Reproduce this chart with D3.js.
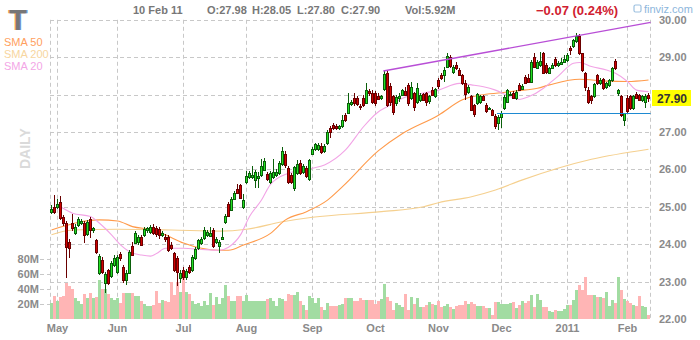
<!DOCTYPE html>
<html>
<head>
<meta charset="utf-8">
<script src="https://cdnjs.cloudflare.com/ajax/libs/d3/7.8.5/d3.min.js"></script>
<style>
  body { margin: 0; background: #fff; }
  svg { display: block; font-family: Arial, "Liberation Sans", sans-serif; }
  .ticker { text-shadow: -1px 0 #f0a050, 1px 0 #6a9ad0; }
</style>
</head>
<body>
<svg id="chart" width="700" height="340"></svg>
<script>
// daily candles, 29 Apr 2010 .. 10 Feb 2011 (200 sessions)
var open = [
  24.85,25.00,25.00,25.14,24.73,24.57,24.07,24.57,24.30,24.51,24.58,24.57,24.27,24.67,24.38,24.11,23.23,23.58,22.97,23.31,23.15,23.45,
  23.26,23.74,23.40,23.05,23.23,23.95,24.03,24.05,24.20,24.25,24.38,24.33,24.47,24.42,24.40,24.25,24.20,24.20,23.98,23.76,23.63,23.10,
  23.31,23.13,23.40,23.30,23.63,23.90,24.02,24.17,24.25,24.22,24.38,24.05,23.95,24.15,24.60,25.07,24.91,25.22,25.47,25.58,25.00,
  25.67,25.80,25.80,25.72,25.78,25.85,25.98,25.88,25.67,25.80,25.85,25.90,26.14,26.41,26.03,25.85,25.49,25.90,26.18,25.92,26.05,25.73,
  26.41,26.55,26.54,26.63,26.50,26.70,27.10,27.18,27.16,27.10,27.16,27.45,27.52,27.75,27.92,27.90,27.70,27.90,27.77,28.10,28.05,
  28.03,27.95,27.90,28.15,28.58,28.23,27.96,27.77,27.90,27.99,28.10,28.26,27.90,28.05,27.81,27.85,28.02,28.04,27.82,28.12,27.96,
  28.39,28.52,28.52,28.75,29.01,28.61,28.78,28.66,28.52,28.32,28.08,27.95,27.72,27.77,27.80,27.95,27.72,27.62,27.59,27.43,27.25,
  27.40,27.63,27.81,28.00,28.05,27.90,28.26,28.15,28.48,28.45,28.35,29.00,28.72,28.80,29.10,28.80,28.58,28.72,28.95,28.78,28.82,28.88,
  28.92,29.25,29.30,29.42,29.58,29.10,28.57,28.12,27.95,27.95,28.52,28.30,28.42,28.20,28.25,28.40,28.90,28.05,27.96,27.32,
  27.90,27.95,27.65,28.02,27.98,27.85,27.80,27.98
];
var high = [
  25.05,25.32,25.20,25.30,24.78,24.62,24.15,24.80,24.55,24.72,24.68,24.62,24.65,24.72,24.45,24.15,23.75,23.65,23.25,23.35,23.55,23.70,
  23.72,23.80,23.45,23.30,23.85,24.05,24.35,24.25,24.25,24.45,24.45,24.52,24.55,24.48,24.45,24.35,24.28,24.25,24.05,23.80,23.68,23.30,
  23.40,23.35,23.45,23.70,23.92,24.15,24.18,24.45,24.38,24.45,24.42,24.20,24.10,24.42,24.80,25.12,25.25,25.42,25.62,25.62,25.35,
  25.95,25.95,26.10,25.98,25.94,26.27,26.30,25.92,25.95,26.28,26.00,26.22,26.59,26.48,26.08,25.90,26.10,26.25,26.25,26.15,26.10,26.28,
  26.60,26.70,26.70,26.70,26.68,27.05,27.15,27.25,27.22,27.20,27.45,27.52,28.03,27.85,28.05,27.95,27.75,27.98,28.30,28.15,28.12,
  28.10,28.05,28.00,28.62,28.62,28.30,28.00,27.98,28.05,28.15,28.20,28.30,28.35,28.08,28.30,28.05,28.05,28.08,27.98,28.20,28.18,
  28.45,28.58,28.75,29.12,29.05,28.80,28.88,28.70,28.55,28.40,28.25,28.00,27.75,28.05,28.00,27.98,27.78,27.68,27.62,27.48,27.45,
  27.55,27.98,28.15,28.08,28.10,28.12,28.30,28.28,28.52,28.55,28.92,29.10,28.92,29.15,29.15,28.85,28.75,28.85,29.00,28.90,28.98,29.05,
  29.10,29.30,29.50,29.66,29.62,29.12,28.60,28.20,28.00,28.32,28.55,28.45,28.45,28.35,28.42,28.75,28.95,28.15,28.00,27.52,
  28.00,28.00,28.00,28.08,28.02,28.00,28.02,28.05
];
var low = [
  24.80,24.80,24.95,24.65,24.50,23.10,23.63,24.35,24.25,24.45,24.52,24.03,24.22,24.17,24.30,23.75,23.18,23.20,22.70,22.90,23.10,23.40,
  23.20,23.55,22.95,22.90,23.20,23.68,24.00,23.98,23.95,24.20,24.30,24.28,24.25,24.20,24.15,24.20,24.05,23.80,23.85,23.25,22.88,22.95,
  23.05,23.05,23.20,23.25,23.58,23.85,23.98,24.12,24.18,24.18,23.90,24.00,23.77,24.10,24.55,24.72,24.88,25.18,25.35,25.20,24.95,
  25.60,25.75,25.75,25.49,25.49,25.80,25.95,25.70,25.62,25.75,25.80,25.85,26.10,26.05,25.60,25.62,25.43,25.85,25.85,25.88,25.78,25.70,
  26.38,26.50,26.48,26.40,26.45,26.65,26.85,27.05,27.05,27.05,27.12,27.28,27.48,27.70,27.70,27.70,27.60,27.68,27.74,27.95,27.75,
  27.70,27.85,27.85,28.10,27.68,27.70,27.45,27.70,27.80,27.95,27.95,27.70,27.85,27.55,27.75,27.80,27.82,27.70,27.75,27.95,27.90,
  28.15,28.40,28.35,28.70,28.70,28.55,28.65,28.50,28.25,27.85,28.02,27.55,27.40,27.72,27.75,27.82,27.52,27.58,27.42,27.08,27.05,
  27.10,27.58,27.78,27.95,27.90,27.85,28.10,28.12,28.28,28.30,28.30,28.72,28.68,28.75,28.55,28.55,28.55,28.68,28.75,28.75,28.78,28.85,
  28.88,29.05,29.25,29.38,29.05,28.60,28.10,27.75,27.75,27.90,28.25,28.25,28.12,28.15,28.20,28.35,28.65,27.95,27.40,27.16,
  27.50,27.60,27.60,27.88,27.82,27.80,27.65,27.80
];
var close = [
  24.95,24.85,25.07,24.70,24.57,23.93,23.90,24.43,24.47,24.67,24.62,24.25,24.60,24.38,24.42,23.80,23.68,23.27,23.20,22.97,23.49,23.62,
  23.67,23.63,23.04,23.22,23.80,23.71,24.30,24.20,23.97,24.40,24.42,24.45,24.30,24.28,24.25,24.30,24.15,23.84,23.90,23.31,23.26,23.23,
  23.13,23.28,23.26,23.66,23.87,24.11,24.13,24.38,24.32,24.30,23.95,24.15,24.05,24.20,24.75,24.75,25.20,25.38,25.38,25.23,25.18,
  25.82,25.90,25.86,25.94,25.82,26.09,26.23,25.73,25.90,25.94,25.92,26.18,26.50,26.12,25.65,25.67,26.07,26.15,25.90,26.10,25.82,26.25,
  26.54,26.68,26.66,26.47,26.62,27.00,27.00,27.10,27.10,27.16,27.32,27.32,27.77,27.80,27.77,27.74,27.66,27.72,28.12,28.03,27.80,
  27.77,27.88,27.95,28.55,27.72,27.81,27.54,27.93,27.95,28.12,27.99,27.77,28.21,27.66,28.17,28.00,27.86,27.81,27.95,27.99,28.14,
  28.23,28.44,28.66,29.03,28.76,28.75,28.70,28.52,28.30,28.02,28.21,27.60,27.48,28.02,27.96,27.86,27.57,27.64,27.45,27.16,27.40,
  27.50,27.93,28.12,28.02,27.92,28.08,28.12,28.24,28.30,28.35,28.88,28.75,28.88,28.90,28.57,28.60,28.70,28.80,28.78,28.85,28.88,28.95,
  29.05,29.18,29.45,29.57,29.10,28.65,28.20,27.81,27.85,28.28,28.30,28.40,28.18,28.30,28.38,28.70,28.70,28.12,27.45,27.50,
  27.56,27.65,27.95,27.92,27.86,27.96,27.97,27.90
];
// volume, millions of shares
var volume = [
  22,31,24,30,31,49,44,40,29,25,20,34,29,35,29,30,52,40,41,34,28,26,
  28,22,35,35,35,35,31,31,25,21,18,18,19,38,22,26,24,23,50,32,50,37,
  57,37,34,25,20,22,18,25,19,35,19,30,21,28,46,31,25,25,31,31,24,
  32,24,25,24,25,24,25,27,29,24,18,28,27,25,34,32,32,36,25,19,13,31,
  29,22,29,16,13,22,18,18,18,19,21,29,28,28,25,25,29,26,26,26,26,
  20,24,27,47,30,24,12,22,19,17,34,13,30,20,29,17,17,19,23,20,19,
  24,17,18,20,17,14,18,19,19,24,21,23,21,18,18,18,15,15,6,23,23,
  21,20,20,22,23,15,19,24,22,24,32,16,34,26,16,16,11,10,12,11,11,14,
  19,19,26,39,46,39,56,33,33,32,30,30,28,36,18,26,22,57,39,27,
  24,22,19,18,31,18,17,5.92
];

// moving averages: [session index, value]
var sma20 = [[3,25.0],[7,24.83],[13,24.74],[16,24.56],[20,24.25],[23,23.98],[26,23.8],[30,23.71],[33,23.68],[35,23.75],
  [38,23.89],[44,23.89],[50,23.86],[56,23.84],[59,23.92],[63,24.25],[66,24.74],[70,25.18],[73,25.6],[79,25.9],[87,26.03],
  [91,26.12],[98,26.52],[104,27.14],[106,27.32],[109,27.54],[112,27.68],[117,27.9],[129,28.12],[136,28.3],[140,28.26],
  [144,28.21],[148,28.12],[153,27.94],[156,27.87],[159,27.94],[164,28.17],[166,28.3],[169,28.5],[174,28.84],[176,28.86],
  [180,28.75],[185,28.66],[188,28.57],[192,28.35],[195,28.12],[199,28.08]];
var sma50 = [[0,24.38],[16,24.65],[22,24.62],[27,24.47],[34,24.38],[38,24.25],[44,24.03],[50,23.89],[56,23.84],[59,23.84],
  [64,23.98],[73,24.29],[78,24.65],[85,24.87],[92,25.18],[97,25.54],[109,26.5],[117,26.96],[129,27.45],[137,27.86],
  [143,27.99],[150,28.05],[155,28.1],[162,28.17],[166,28.26],[176,28.41],[185,28.36],[192,28.35],[199,28.39]];
var sma200 = [[0,24.25],[7,24.38],[22,24.4],[40,24.38],[56,24.35],[65,24.4],[77,24.6],[87,24.72],[110,24.87],[124,25.0],
  [129,25.11],[140,25.27],[148,25.45],[157,25.72],[180,26.27],[199,26.54]];

// drawn annotations: [session index, price]
var trendLine = [[110.6,28.63],[199.7,29.93]];
var supportLine = [[148.5,27.5],[199.7,27.5]];

var priceTicks = [22,23,24,25,26,27,28,29,30];
var volumeTicks = [20,40,60,80];
var monthLabels = ["May","Jun","Jul","Aug","Sep","Oct","Nov","Dec","2011","Feb"];
var holidays = ["2010-05-31","2010-07-05","2010-09-06","2010-11-25","2010-12-24","2011-01-17"];
var dayChange = -0.07, dayChangePct = 0.24;

var fmt = d3.utcFormat("%Y-%m-%d");
var days = d3.utcDays(new Date(Date.UTC(2010,3,29)), new Date(Date.UTC(2011,1,11)))
  .filter(function(d){ return d.getUTCDay() % 6 !== 0 && holidays.indexOf(fmt(d)) < 0; });

var bars = days.map(function(d, i){
  return {date:d, i:i, o:open[i], h:high[i], l:low[i], c:close[i], v:volume[i]};
});
var monthStarts = [];
bars.forEach(function(b, i){
  if (i > 0 && b.date.getUTCMonth() !== bars[i-1].date.getUTCMonth()) monthStarts.push(i);
});

var L = 50, R = 650, T = 19.8, B = 319;
var x = d3.scaleLinear().domain([0, bars.length - 1]).range([L + 1.5, R - 1.5]);
var y = d3.scaleLinear().domain([22, 30]).range([B, T]);
var yv = d3.scaleLinear().domain([0, 80]).range([B + 0.3, B + 0.3 - 60]);
var snap = function(v){ return Math.round(v) + 0.5; };

var svg = d3.select("#chart");

// grid
var grid = svg.append("g").attr("stroke", "#c8c8c8").attr("stroke-dasharray", "4,3").attr("stroke-width", 1);
priceTicks.filter(function(p){ return p > 22; }).forEach(function(p){
  grid.append("line").attr("x1", L).attr("x2", R).attr("y1", snap(y(p))).attr("y2", snap(y(p)));
});
[L, R].forEach(function(xx){
  grid.append("line").attr("x1", snap(xx - 0.5)).attr("x2", snap(xx - 0.5)).attr("y1", T).attr("y2", B);
});
monthStarts.forEach(function(i){
  grid.append("line").attr("x1", snap(x(i) - 0.5)).attr("x2", snap(x(i) - 0.5)).attr("y1", T).attr("y2", B);
});
volumeTicks.forEach(function(v){
  grid.append("line").attr("x1", 40).attr("x2", L).attr("y1", snap(yv(v))).attr("y2", snap(yv(v)));
});

// volume
svg.append("g").selectAll("rect").data(bars).join("rect")
  .attr("x", function(d){ return x(d.i) - 1.5; })
  .attr("width", 3)
  .attr("y", function(d){ return Math.round(yv(d.v)); })
  .attr("height", function(d){ return Math.round(yv(0)) - Math.round(yv(d.v)); })
  .attr("fill", function(d){ return d.c >= d.o ? "#a2dca2" : "#ffb5b5"; });

// moving averages
var line = d3.line().x(function(d){ return x(d[0]); }).y(function(d){ return y(d[1]); }).curve(d3.curveMonotoneX);
[[sma200, "#f5d08f"], [sma50, "#ff9a4a"], [sma20, "#f2a4e6"]].forEach(function(s){
  svg.append("path").datum(s[0]).attr("d", line).attr("fill", "none").attr("stroke", s[1]).attr("stroke-width", 1.1);
});

// candles
var cg = svg.append("g").attr("shape-rendering", "crispEdges");
var candle = cg.selectAll("g").data(bars).join("g");
candle.append("line")
  .attr("x1", function(d){ return x(d.i); }).attr("x2", function(d){ return x(d.i); })
  .attr("y1", function(d){ return Math.round(y(d.h)); }).attr("y2", function(d){ return Math.round(y(d.l)); })
  .attr("stroke", function(d){ return d.c >= d.o ? "#0a5e0a" : "#6a0000"; });
candle.append("rect")
  .attr("x", function(d){ return x(d.i) - 1; })
  .attr("width", 2)
  .attr("y", function(d){ return Math.round(y(Math.max(d.o, d.c))) + 0.5; })
  .attr("height", function(d){ return Math.max(1, Math.round(y(Math.min(d.o, d.c))) - Math.round(y(Math.max(d.o, d.c)))); })
  .attr("fill", function(d){ return d.c >= d.o ? "#22e022" : "#d00000"; })
  .attr("stroke", function(d){ return d.c >= d.o ? "#0a5e0a" : "#6a0000"; });

// trend lines
svg.append("line")
  .attr("x1", x(trendLine[0][0])).attr("y1", y(trendLine[0][1]))
  .attr("x2", x(trendLine[1][0])).attr("y2", y(trendLine[1][1]))
  .attr("stroke", "#b84ed6").attr("stroke-width", 1.4);
svg.append("line")
  .attr("x1", x(supportLine[0][0])).attr("y1", snap(y(supportLine[0][1])))
  .attr("x2", x(supportLine[1][0])).attr("y2", snap(y(supportLine[1][1])))
  .attr("stroke", "#1e8ad2").attr("stroke-width", 1);

// price axis
var last = bars[bars.length - 1];
svg.append("g").selectAll("text")
  .data(priceTicks.filter(function(p){ return Math.abs(p - last.c) > 0.3; }))
  .join("text")
  .attr("x", 659).attr("y", function(p){ return y(p) + 4; })
  .attr("font-size", 11).attr("font-weight", "bold").attr("fill", "#8a8a8a")
  .text(function(p){ return d3.format(".2f")(p); });
svg.append("rect").attr("x", 652).attr("y", Math.round(y(last.c)) - 8).attr("width", 39).attr("height", 16).attr("fill", "#ffff00");
svg.append("text").attr("x", 657).attr("y", y(last.c) + 4.5)
  .attr("font-size", 12).attr("font-weight", "bold").attr("fill", "#333")
  .text(d3.format(".2f")(last.c));

// volume axis
svg.append("g").selectAll("text").data(volumeTicks).join("text")
  .attr("x", 39).attr("y", function(v){ return yv(v) + 4; })
  .attr("text-anchor", "end").attr("font-size", 11).attr("font-weight", "bold").attr("fill", "#8a8a8a")
  .text(function(v){ return v + "M"; });

// month axis
svg.append("g").selectAll("text").data(monthStarts).join("text")
  .attr("x", function(i){ return x(i); }).attr("y", 332)
  .attr("text-anchor", "middle").attr("font-size", 11).attr("font-weight", "bold").attr("fill", "#8a8a8a")
  .text(function(i, k){ return monthLabels[k]; });

// header
svg.append("text").attr("class", "ticker").attr("x", 9).attr("y", 30)
  .attr("font-size", 29).attr("font-weight", "bold").attr("fill", "#777").text("T");
[["SMA 50", "#ffa060", 46], ["SMA 200", "#f7d6a0", 58], ["SMA 20", "#f3a6e6", 70]].forEach(function(s){
  svg.append("text").attr("x", 4).attr("y", s[2]).attr("font-size", 11).attr("fill", s[1]).text(s[0]);
});
svg.append("text").attr("transform", "translate(30,169) rotate(-90)")
  .attr("font-size", 14).attr("font-weight", "bold").attr("fill", "#dadada").text("DAILY");

var info = svg.append("g").attr("font-size", 11).attr("font-weight", "bold").attr("fill", "#777");
var f2 = d3.format(".2f");
info.append("text").attr("x", 133).attr("y", 14).text(d3.utcFormat("%-d %b %y")(last.date));
info.append("text").attr("x", 207).attr("y", 14).text("O:" + f2(last.o));
info.append("text").attr("x", 252).attr("y", 14).text("H:" + f2(last.h));
info.append("text").attr("x", 297).attr("y", 14).text("L:" + f2(last.l));
info.append("text").attr("x", 341).attr("y", 14).text("C:" + f2(last.c));
info.append("text").attr("x", 405).attr("y", 14).text("Vol:" + last.v + "M");
svg.append("text").attr("x", 536).attr("y", 15).attr("font-size", 13).attr("font-weight", "bold").attr("fill", "#d02030")
  .text(f2(dayChange) + " (" + f2(dayChangePct) + "%)");
svg.append("rect").attr("x", 634).attr("y", 5).attr("width", 7).attr("height", 7).attr("rx", 1.5)
  .attr("fill", "none").attr("stroke", "#9cc0e0").attr("stroke-width", 1.2);
svg.append("text").attr("x", 644).attr("y", 13).attr("font-size", 11).attr("fill", "#8cb6dc").text("finviz.com");
</script>
</body>
</html>
